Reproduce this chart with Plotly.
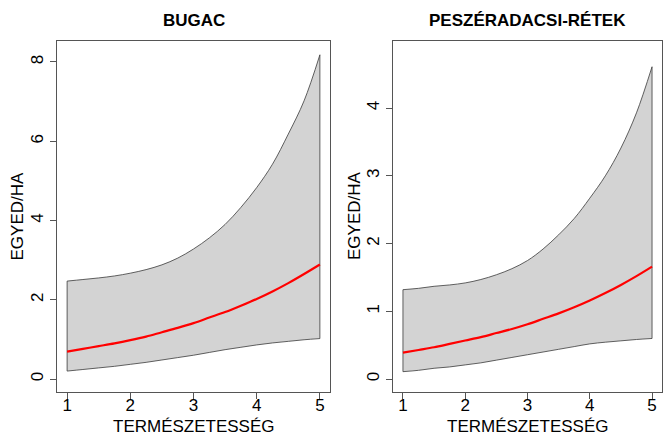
import plotly.graph_objects as go

x = [1, 1.25, 1.5, 1.75, 2, 2.25, 2.5, 2.75, 3, 3.25, 3.5, 3.75, 4, 4.25, 4.5, 4.75, 5]

bugac_fit = [0.69, 0.76, 0.83, 0.90, 0.98, 1.07, 1.18, 1.29, 1.41, 1.55, 1.69, 1.85, 2.02, 2.21, 2.42, 2.65, 2.89]
bugac_lower = [0.20, 0.24, 0.28, 0.32, 0.37, 0.42, 0.48, 0.54, 0.60, 0.67, 0.74, 0.80, 0.86, 0.91, 0.95, 0.99, 1.02]
bugac_upper = [2.47, 2.51, 2.55, 2.60, 2.67, 2.76, 2.88, 3.05, 3.28, 3.56, 3.90, 4.33, 4.83, 5.42, 6.18, 7.02, 8.18]

pesz_fit = [0.39, 0.43, 0.47, 0.52, 0.57, 0.62, 0.68, 0.74, 0.81, 0.89, 0.97, 1.06, 1.16, 1.27, 1.39, 1.52, 1.66]
pesz_lower = [0.11, 0.13, 0.16, 0.18, 0.21, 0.24, 0.28, 0.32, 0.36, 0.40, 0.44, 0.48, 0.52, 0.545, 0.565, 0.585, 0.60]
pesz_upper = [1.32, 1.34, 1.37, 1.39, 1.42, 1.47, 1.54, 1.63, 1.75, 1.92, 2.13, 2.37, 2.67, 3.00, 3.41, 3.93, 4.61]

titles = ["BUGAC", "PESZÉRADACSI-RÉTEK"]
x_title = "TERMÉSZETESSÉG"
y_title = "EGYED/HA"
x_ticks = [1, 2, 3, 4, 5]
y_ticks_left = [0, 2, 4, 6, 8]
y_ticks_right = [0, 1, 2, 3, 4]

W, H = 663, 436
FONT = "Liberation Sans, Arial, sans-serif"
EDGE = "#3a3a3a"

fig = go.Figure()

panels = [
    (bugac_fit, bugac_lower, bugac_upper, "x", "y"),
    (pesz_fit, pesz_lower, pesz_upper, "x2", "y2"),
]
for fit, lo, up, xa, ya in panels:
    fig.add_trace(go.Scatter(x=x, y=lo, mode="lines",
                             line=dict(color=EDGE, width=0.8, shape="spline"),
                             xaxis=xa, yaxis=ya, hoverinfo="skip"))
    fig.add_trace(go.Scatter(x=x, y=up, mode="lines", fill="tonexty",
                             fillcolor="#D3D3D3",
                             line=dict(color=EDGE, width=0.8, shape="spline"),
                             xaxis=xa, yaxis=ya, hoverinfo="skip"))
    for i in (0, -1):
        fig.add_trace(go.Scatter(x=[x[i], x[i]], y=[lo[i], up[i]], mode="lines",
                                 line=dict(color=EDGE, width=0.8),
                                 xaxis=xa, yaxis=ya, hoverinfo="skip"))
    fig.add_trace(go.Scatter(x=x, y=fit, mode="lines",
                             line=dict(color="#FF0000", width=2.2, shape="spline"),
                             xaxis=xa, yaxis=ya))

def px2fx(p):
    return p / W

def py2fy(p):
    return 1 - p / H

axis_common = dict(showline=True, mirror=True, linecolor="#555555", linewidth=1,
                   ticks="outside", ticklen=6, tickcolor="#555555",
                   showgrid=False, zeroline=False,
                   tickfont=dict(family=FONT, size=17, color="black"))

ydom = [py2fy(392), py2fy(41)]
fig.update_layout(
    width=W, height=H, margin=dict(l=0, r=0, t=0, b=0),
    paper_bgcolor="white", plot_bgcolor="white", showlegend=False,
    xaxis=dict(domain=[px2fx(57), px2fx(330)], range=[0.84, 5.16],
               tickvals=x_ticks, anchor="y", ticklabelstandoff=-8, **axis_common),
    yaxis=dict(domain=ydom, range=[-0.328, 8.528], tickvals=y_ticks_left,
               tickangle=-90, anchor="x", **axis_common),
    xaxis2=dict(domain=[px2fx(393), px2fx(662)], range=[0.84, 5.16],
                tickvals=x_ticks, anchor="y2", ticklabelstandoff=-8, **axis_common),
    yaxis2=dict(domain=ydom, range=[-0.19, 4.99], tickvals=y_ticks_right,
                tickangle=-90, anchor="x2", **axis_common),
)

ann = []
centers = [(57 + 330) / 2, (393 + 662) / 2]
yaxis_x = [16.5, 354]
for i, c in enumerate(centers):
    ann.append(dict(text="<b>%s</b>" % titles[i], x=px2fx(c), y=py2fy(20.5),
                    xref="paper", yref="paper", showarrow=False,
                    xanchor="center", yanchor="middle",
                    font=dict(family=FONT, size=17, color="black")))
    ann.append(dict(text=x_title, x=px2fx(c), y=py2fy(426), xref="paper", yref="paper",
                    showarrow=False, xanchor="center", yanchor="middle",
                    font=dict(family=FONT, size=17, color="black")))
    ann.append(dict(text=y_title, x=px2fx(yaxis_x[i]), y=py2fy(216), xref="paper",
                    yref="paper", showarrow=False, textangle=-90,
                    xanchor="center", yanchor="middle",
                    font=dict(family=FONT, size=17, color="black")))
fig.update_layout(annotations=ann)

fig.write_html("out.html")
